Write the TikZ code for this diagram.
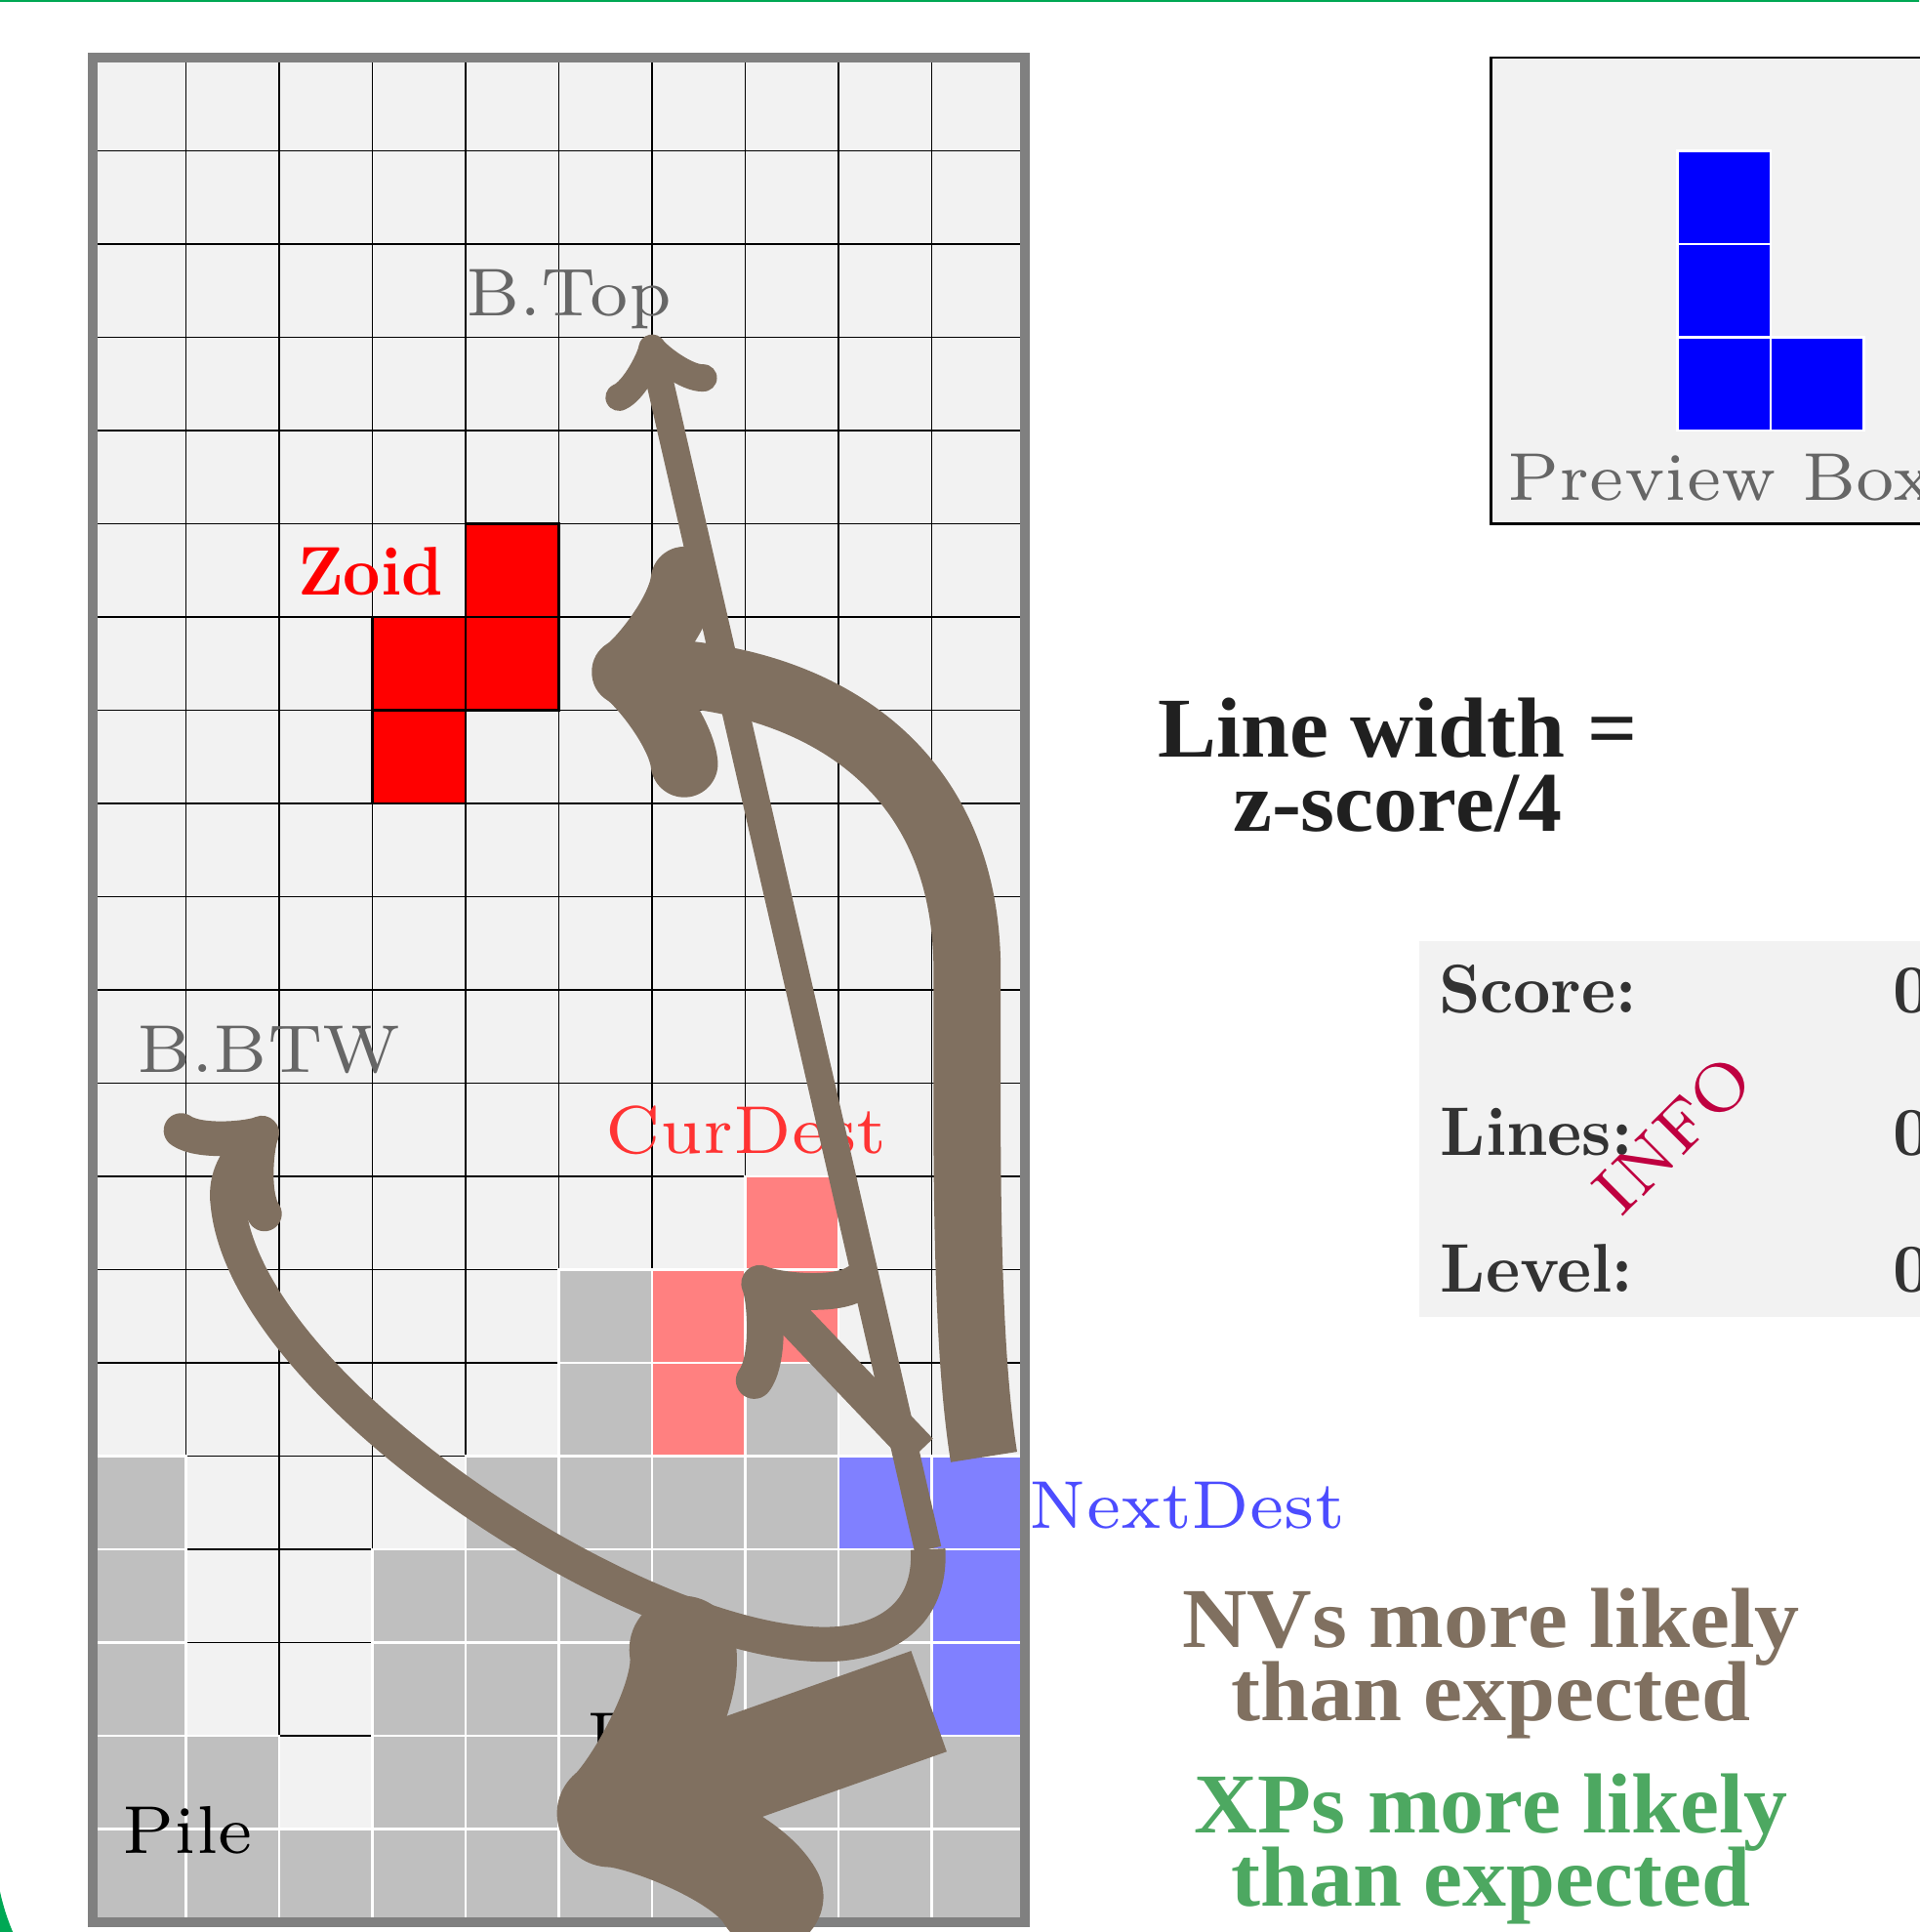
\documentclass[tikz,border=0pt]{standalone}
\usepackage{fontspec}
\usepackage{graphicx}
\usetikzlibrary{decorations.markings}

\definecolor{nvbrown}{RGB}{128,112,96}
\definecolor{xpgreen}{RGB}{77,168,97}
\definecolor{framegreen}{RGB}{0,168,84}
\definecolor{legendink}{RGB}{32,32,32}

% board texts: small Latin Modern, blown up
\newcommand\boardfont[1]{\scalebox{2.95}{\fontsize{7}{8}\selectfont #1}}
\newcommand\boardbold[1]{\scalebox{1.985}[2.1]{\fontsize{10}{12}\bfseries #1}}
% legend texts
\newfontfamily\legendfont{Liberation Serif}[FakeStretch=1.03]

\tikzset{
  emptycell/.style={fill=gray!10},
  gridline/.style={draw=black, line width=0.4pt},
  pilecell/.style={fill=gray!50, draw=white, line width=0.8pt},
  curcell/.style={fill=red!50, draw=white, line width=0.8pt},
  nextcell/.style={fill=blue!50, draw=white, line width=0.8pt},
  zoidcell/.style={fill=red, draw=black, line width=0.8pt},
  prevcell/.style={fill=blue, draw=white, line width=0.8pt},
  boardframe/.style={draw=gray, line width=3pt},
  tag/.style={inner sep=0pt, outer sep=0pt},
  legend/.style={inner sep=0pt, outer sep=0pt, anchor=base,
                 font=\legendfont\bfseries\fontsize{26}{26}\selectfont},
  gaze/.style={draw=nvbrown},
  % curved-barb head; #1 = length unit, #2 = stroke width, #3 = spread unit
  hooktip/.style n args={3}{postaction={decorate, decoration={markings,
    mark=at position 1 with {
      \draw[draw=nvbrown, line width=#2, line cap=round, line join=round]
        (-3*#1, 4*#3) .. controls (-2.75*#1, 2.5*#3) and (0pt, 0.25*#3) .. (0.75*#1, 0pt)
        .. controls (0pt, -0.25*#3) and (-2.75*#1, -2.5*#3) .. (-3*#1, -4*#3);
    }}}},
}

\begin{document}
\begin{tikzpicture}[x=1cm,y=1cm]
\useasboundingbox (-0.995,-0.105) rectangle (19.592,20.618);

% outer page frame
\begin{scope}
  \clip (-0.995,-0.105) rectangle (19.592,20.618);
  \fill[framegreen, even odd rule] (-3,-3) rectangle (26,26)
    (-1.052,20.597) -- (-1.052,0.859) arc[start angle=180, end angle=270, radius=2.48]
    -- (24,-1.621) -- (24,20.597) -- cycle;
\end{scope}

% ---------- board ----------
\fill[emptycell] (0,0) rectangle (10,20);
\draw[gridline] (0,0) grid (10,20);

% pile
\foreach \c/\r in {5/6, 5/5, 7/5,
                   0/4, 4/4, 5/4, 6/4, 7/4,
                   0/3, 3/3, 4/3, 5/3, 6/3, 7/3, 8/3,
                   0/2, 3/2, 4/2, 5/2, 6/2, 7/2, 8/2,
                   0/1, 1/1, 3/1, 4/1, 5/1, 6/1, 7/1, 8/1, 9/1,
                   0/0, 1/0, 2/0, 3/0, 4/0, 5/0, 6/0, 7/0, 8/0, 9/0}
  \draw[pilecell] (\c,\r) rectangle ++(1,1);

% current destination
\foreach \c/\r in {7/7, 6/6, 7/6, 6/5}
  \draw[curcell] (\c,\r) rectangle ++(1,1);

% next destination
\foreach \c/\r in {8/4, 9/4, 9/3, 9/2}
  \draw[nextcell] (\c,\r) rectangle ++(1,1);

% falling zoid
\foreach \c/\r in {4/14, 3/13, 4/13, 3/12}
  \draw[zoidcell] (\c,\r) rectangle ++(1,1);

\draw[boardframe] (0,0) rectangle (10,20);

% ---------- preview box ----------
\draw[fill=gray!10, draw=black, line width=0.8pt] (15,15) rectangle (21,20);
\foreach \c/\r in {17/18, 17/17, 17/16, 18/16}
  \draw[prevcell] (\c,\r) rectangle ++(1,1);
\node[tag, anchor=base west, text=black!60] (preview) at (15.18,15.25) {\boardfont{Preview Box}};

% ---------- info panel ----------
\fill[gray!10] (14.23,6.49) rectangle (21,10.52);
\node[tag, anchor=base west, text=black!80] (score) at (14.44,9.75) {\boardbold{Score:}};
\node[tag, anchor=base west, text=black!80] (lines) at (14.46,8.22) {\boardbold{Lines:}};
\node[tag, anchor=base west, text=black!80] (level) at (14.46,6.76) {\boardbold{Level:}};
\node[tag, anchor=base west, text=black!80] (scorev) at (19.31,9.75) {\boardbold{0}};
\node[tag, anchor=base west, text=black!80] (linesv) at (19.31,8.22) {\boardbold{0}};
\node[tag, anchor=base west, text=black!80] (levelv) at (19.31,6.76) {\boardbold{0}};
\node[tag, rotate=45, text=purple] (info) at (16.95,8.45) {\boardfont{INFO}};

% ---------- region labels ----------
\node[tag, anchor=base west, text=black!60] (btop) at (4.0,17.23) {\boardfont{B.Top}};
\node[tag, anchor=base west, text=red] (zoid) at (2.2,14.24) {\boardbold{Zoid}};
\node[tag, anchor=base west, text=black!60] (bbtw) at (0.48,9.12) {\boardfont{B.BTW}};
\node[tag, anchor=base west, text=red!80] (curdest) at (5.5,8.25) {\boardfont{CurDest}};
\node[tag, anchor=base west, text=blue!70] (nextdest) at (10.05,4.23) {\boardfont{NextDest}};
\node[tag, anchor=base west, text=black] (pile) at (0.32,0.743) {\boardfont{Pile}};
\node[tag, anchor=base west, text=black] (pilemid) at (5.3,1.74) {\boardfont{P}};

% ---------- legend ----------
\node[legend, text=legendink] (lw1) at (14.0,12.50) {Line width =};
\node[legend, text=legendink] (lw2) at (14.0,11.70) {z-score/4};
\node[legend, text=nvbrown] (nv1) at (15.0,2.95) {\scalebox{1.025}[1]{NVs more likely}};
\node[legend, text=nvbrown] (nv2) at (15.0,2.16) {than expected};
\node[legend, text=xpgreen] (xp1) at (15.0,0.96) {XPs more likely};
\node[legend, text=xpgreen] (xp2) at (15.0,0.17) {than expected};

% ---------- transitions ----------
\coordinate (fromNextA) at (8.96,4.0);
\coordinate (toTop) at (6.02,16.80);
\coordinate (fromNextB) at (9.56,4.99);
\coordinate (toZoid) at (5.84,13.41);
\coordinate (fromNextC) at (8.87,5.05);
\coordinate (toCur) at (7.25,6.75);
\coordinate (toBTW) at (1.73,8.38);
\coordinate (fromNextE) at (8.97,2.37);
\coordinate (toPile) at (5.80,1.25);

\draw[gaze, line width=8.3pt, hooktip={3.3pt}{8.3pt}{3.3pt}]
  (fromNextA) -- (toTop);
\draw[gaze, line width=20.5pt, hooktip={4.8pt}{20.5pt}{7pt}]
  (fromNextB) .. controls (9.35,6.3) and (9.38,8.5) .. (9.38,10.2)
  .. controls (9.38,12.6) and (7.5,13.41) .. (toZoid);
\draw[gaze, line width=11.25pt, hooktip={5.4pt}{11.25pt}{5.4pt}]
  (fromNextC) -- (toCur);
\draw[gaze, line width=10.6pt, hooktip={4.5pt}{10.6pt}{4.5pt}]
  (fromNextA) .. controls (9.0,3.3) and (8.5,2.98) .. (7.85,2.98)
  .. controls (5.85,2.98) and (1.65,5.7) .. (1.45,7.7)
  .. controls (1.41,8.0) and (1.55,8.2) .. (toBTW);
\draw[gaze, line width=32.6pt, hooktip={10pt}{32.6pt}{10pt}]
  (fromNextE) -- (toPile);
\end{tikzpicture}
\end{document}
